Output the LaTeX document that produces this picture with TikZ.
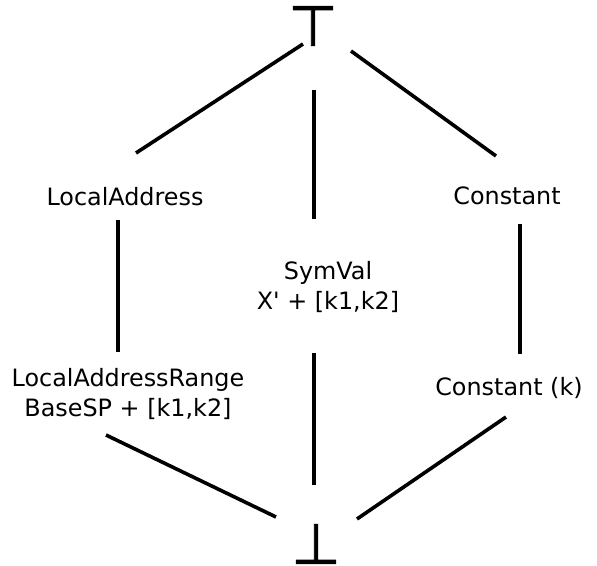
\documentclass[tikz,border=0pt]{standalone}
\usepackage{fontspec}
\setmainfont{DejaVu Sans}
\newfontfamily\boundfont{DejaVu Sans}[FakeBold=1.6]
\begin{document}
\begin{tikzpicture}[x=0.75pt, y=-0.75pt]
	\tikzstyle{elem} = [
		align=center, inner sep=0pt, font=\fontsize{17.9}{22.5}\selectfont
	]
	\tikzstyle{bound} = [
		inner sep=0pt, font=\boundfont\fontsize{42}{42}\selectfont
	]
	\tikzstyle{conn} = [
		line width=2.7pt
	]
	\useasboundingbox (0,0) rectangle (597,565);

	% Lattice elements
	\node (top) [bound] at (313,26) {⊤};
	\node (la) [elem] at (125,197) {LocalAddress};
	\node (const) [elem] at (507,196) {Constant};
	\node (symval) [elem] at (328,287) {SymVal\\X\textquotesingle{} + [k1,k2]};
	\node (lar) [elem] at (128,394) {LocalAddressRange\\BaseSP + [k1,k2]};
	\node (constk) [elem] at (509,388) {Constant (k)};
	\node (bot) [bound] at (316,544) {⊥};

	% Top -> row 1
	\draw[conn] ([shift={(-10,18)}]top.center) -- ([shift={(11,-44)}]la.center);
	\draw[conn] ([shift={(1,64)}]top.center) -- ([shift={(-14,-68)}]symval.center);
	\draw[conn] ([shift={(38,25)}]top.center) -- ([shift={(-11,-40)}]const.center);
	% row 1 -> row 2
	\draw[conn] ([shift={(-7,23)}]la.center) -- ([shift={(-10,-42)}]lar.center);
	\draw[conn] ([shift={(13,28)}]const.center) -- ([shift={(11,-34)}]constk.center);
	% row 2 -> Bottom
	\draw[conn] ([shift={(-14,66)}]symval.center) -- ([shift={(-2,-59)}]bot.center);
	\draw[conn] ([shift={(-22,41)}]lar.center) -- ([shift={(-40,-27)}]bot.center);
	\draw[conn] ([shift={(-3,29)}]constk.center) -- ([shift={(41,-25)}]bot.center);

\end{tikzpicture}
\end{document}
